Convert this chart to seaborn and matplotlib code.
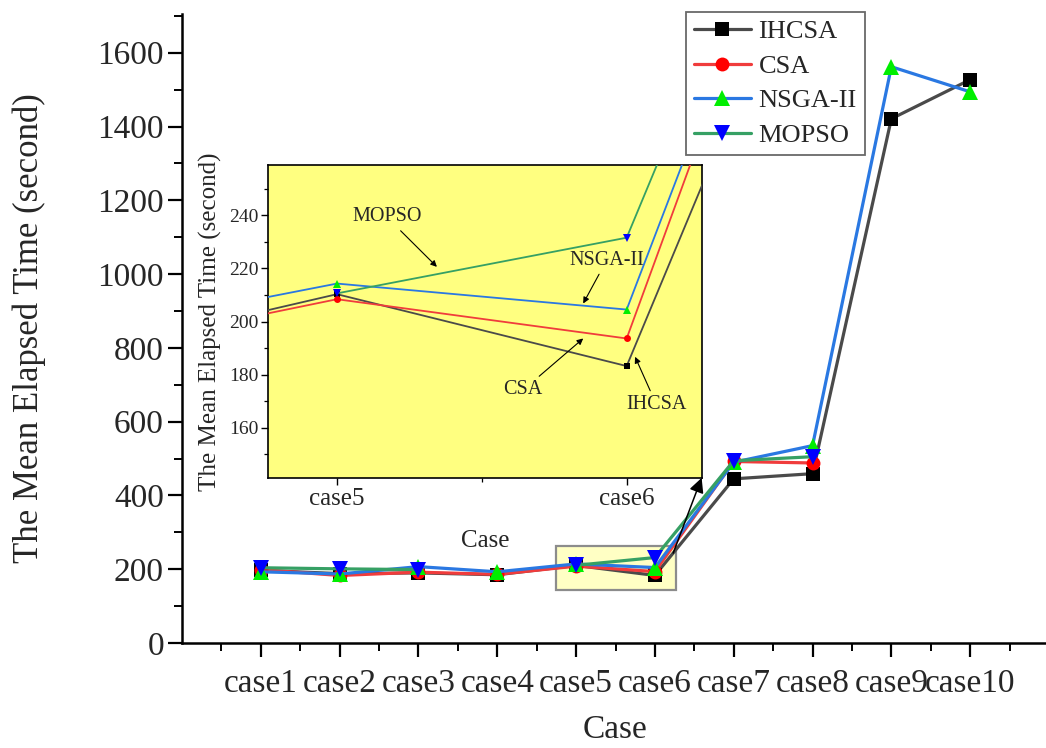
import numpy as np
import pandas as pd
import matplotlib
matplotlib.use("Agg")
import matplotlib.pyplot as plt
import seaborn as sns
from matplotlib.ticker import FixedLocator, MultipleLocator
from matplotlib.patches import Rectangle

# ---- data -------------------------------------------------------------
cases = ["case1", "case2", "case3", "case4", "case5",
         "case6", "case7", "case8", "case9", "case10"]
case_pos = list(range(1, 11))

ihcsa = [197, 188, 190, 185, 210.3, 183.2, 445, 459, 1421, 1527]
csa = [199, 183, 192, 186, 208.4, 193.6, 492, 488, np.nan, np.nan]
nsga2 = [193, 187, 207, 193, 214.3, 204.5, 490, 535, 1562, 1494]
mopso = [204, 201, 199, np.nan, 210.6, 231.6, 494, 505, np.nan, np.nan]

series_names = ["IHCSA", "CSA", "NSGA-II", "MOPSO"]
series_values = [ihcsa, csa, nsga2, mopso]
line_colors = ["#4a4a4a", "#f03c3c", "#2a78e2", "#36a064"]
marker_shapes = ["s", "o", "^", "v"]
marker_colors = ["#000000", "#ff0000", "#00ee00", "#0000ff"]

# ---- style ------------------------------------------------------------
sns.set_style("ticks")
plt.rcParams["font.family"] = ["Liberation Serif", "DejaVu Serif"]

W, H = 1046, 748
fig = plt.figure(figsize=(W / 100, H / 100), dpi=100)


def px_axes(left, top, right, bottom):
    return [left / W, 1 - bottom / H, (right - left) / W, (bottom - top) / H]


ax = fig.add_axes(px_axes(182, 14, 1049, 643))


def to_frame(vals):
    """Long-form frame; a missing value starts a new line segment."""
    vals = np.asarray(vals, dtype=float)
    seg = np.cumsum(np.isnan(vals))
    df = pd.DataFrame({"case": case_pos, "time": vals, "segment": seg})
    return df.dropna()


def draw_series(axis, lw, ms):
    for name, vals, lc, mk, mc in zip(series_names, series_values,
                                      line_colors, marker_shapes, marker_colors):
        size = ms * (1.2 if mk in ("^", "v") else 1.0)
        sns.lineplot(data=to_frame(vals), x="case", y="time", units="segment",
                     estimator=None, ax=axis, color=lc, linewidth=lw,
                     marker=mk, markersize=size, markerfacecolor=mc,
                     markeredgecolor=mc, markeredgewidth=0, label=name,
                     legend=False, zorder=3)


# highlight box around case5-case6
ax.add_patch(Rectangle((4.75, 144), 1.52, 120, facecolor="#ffffc4",
                       edgecolor="#8c8c8c", linewidth=1.6, zorder=1.5))

draw_series(ax, lw=2.3, ms=10)

ax.set_xlim(0, 11)
ax.set_ylim(0, 1705)
ax.xaxis.set_major_locator(FixedLocator(case_pos))
ax.set_xticklabels(cases)
ax.xaxis.set_minor_locator(FixedLocator(np.arange(0.5, 11, 1.0)))
ax.yaxis.set_major_locator(MultipleLocator(200))
ax.yaxis.set_minor_locator(MultipleLocator(100))
ax.tick_params(axis="both", which="major", labelsize=24, length=10,
               width=1.6, direction="out", color="k")
ax.tick_params(axis="both", which="minor", length=6, width=1.4,
               direction="out", color="k")
ax.tick_params(axis="x", which="major", pad=8)
ax.tick_params(axis="y", which="major", pad=3)
for s in ("top", "right"):
    ax.spines[s].set_visible(False)
for s in ("left", "bottom"):
    ax.spines[s].set_linewidth(1.8)
    ax.spines[s].set_color("k")

ax.set_xlabel("Case", fontsize=24)
ax.set_ylabel("The Mean Elapsed Time (second)", fontsize=25)
ax.xaxis.set_label_coords(0.5, -0.114)
ax.yaxis.set_label_coords(-0.157, 0.5)

# one legend entry per series
handles, labels = ax.get_legend_handles_labels()
entries = dict(zip(labels, handles))
leg = fig.legend(list(entries.values()), list(entries.keys()),
                 loc="upper left", bbox_to_anchor=(686 / W, 1 - 12 / H),
                 fontsize=19, frameon=True, fancybox=False,
                 handlelength=2.15, handletextpad=0.3, labelspacing=0.42,
                 borderpad=0.3, borderaxespad=0)
leg.get_frame().set_edgecolor("#444444")
leg.get_frame().set_linewidth(1.3)

# arrow from highlight box to the zoomed view
ax.annotate("", xy=(6.593, 447.6), xytext=(6.232, 243.8),
            arrowprops=dict(arrowstyle="-|>", color="k", lw=1.1,
                            mutation_scale=22, shrinkA=0, shrinkB=0),
            zorder=4)

# ---- zoomed inset -----------------------------------------------------
ax_in = fig.add_axes(px_axes(268, 165, 702, 478), zorder=5)
ax_in.set_facecolor("#ffff80")
draw_series(ax_in, lw=1.3, ms=5)
ax_in.set_xlim(4.762, 6.26)
ax_in.set_ylim(141, 259)
ax_in.xaxis.set_major_locator(FixedLocator([5, 6]))
ax_in.set_xticklabels(["case5", "case6"])
ax_in.xaxis.set_minor_locator(FixedLocator([5.5]))
ax_in.yaxis.set_major_locator(MultipleLocator(20))
ax_in.yaxis.set_minor_locator(MultipleLocator(10))
ax_in.tick_params(axis="both", which="major", length=5, width=1.0,
                  direction="out", color="k")
ax_in.tick_params(axis="both", which="minor", length=3, width=0.9,
                  direction="out", color="k")
ax_in.tick_params(axis="y", which="major", labelsize=14, pad=1.5)
ax_in.tick_params(axis="x", which="major", labelsize=18, pad=2)
for s in ax_in.spines.values():
    s.set_visible(True)
    s.set_linewidth(1.2)
    s.set_color("k")
ax_in.set_xlabel("Case", fontsize=18)
ax_in.set_ylabel("The Mean Elapsed Time (second)", fontsize=18)
ax_in.xaxis.set_label_coords(0.5, -0.165)
ax_in.yaxis.set_label_coords(-0.106, 0.5)

notes = [
    ("MOPSO", (5.345, 220.6), (5.172, 239.4)),
    ("NSGA-II", (5.850, 206.8), (5.931, 223.1)),
    ("CSA", (5.850, 193.6), (5.643, 174.2)),
    ("IHCSA", (6.029, 186.7), (6.103, 168.6)),
]
for text, head, pos in notes:
    ax_in.annotate(text, xy=head, xytext=pos, ha="center", va="center",
                   fontsize=14.5,
                   arrowprops=dict(arrowstyle="-|>", color="k", lw=0.8,
                                   mutation_scale=9, shrinkA=1, shrinkB=0))

fig.savefig("out.png", dpi=100)
